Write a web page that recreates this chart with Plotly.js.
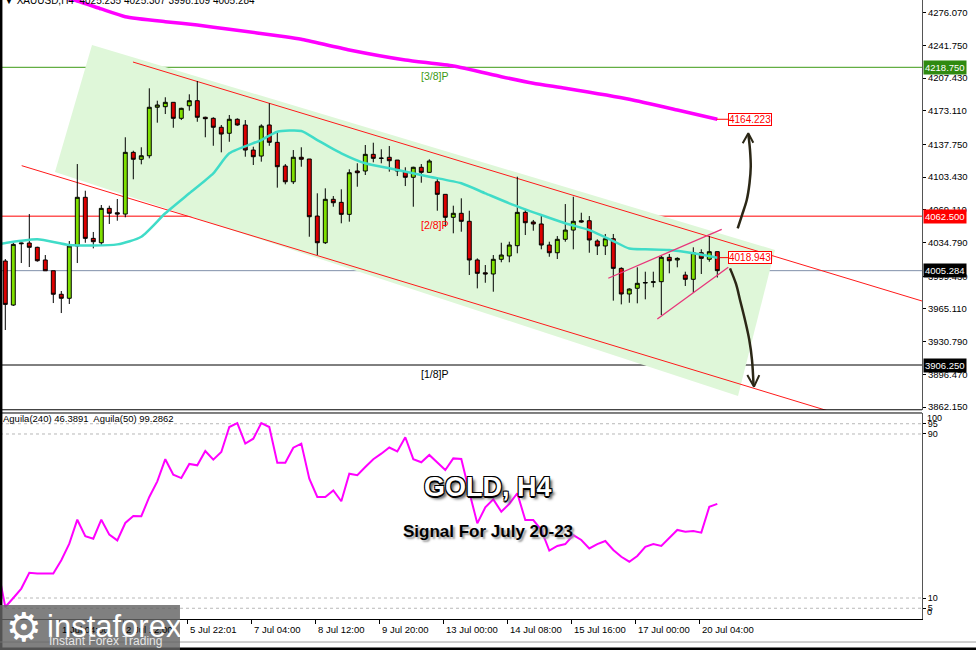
<!DOCTYPE html>
<html><head><meta charset="utf-8">
<script src="https://cdn.plot.ly/plotly-3.0.1.min.js"></script>
<style>html,body{margin:0;padding:0;background:#fff;overflow:hidden}</style>
</head><body><div id="chart" style="width:976px;height:650px"></div>
<script>
// ---------- DATA ----------
const opens  = [4015.4,3969.2,4033.5,4034.3,4029.8,4016.5,4005.2,3980.5,3976.3,4031.2,4082.3,4039.2,4034.6,4070.7,4066.1,4064.7,4129.5,4122.2,4125.9,4176.8,4177.4,4182.0,4165.2,4178.4,4183.7,4166.3,4165.2,4155.8,4149.5,4164.2,4158.2,4131.9,4125.6,4158.2,4140.0,4115.1,4098.6,4124.3,4122.5,4062.6,4034.6,4080.2,4077.0,4064.4,4109.9,4109.9,4127.4,4123.5,4124.3,4121.4,4109.2,4103.3,4113.8,4108.5,4098.6,4085.4,4061.3,4065.5,4057.1,4016.5,4003.1,4001.8,4017.2,4020.7,4031.5,4066.5,4056.4,4054.3,4032.2,4024.1,4038.2,4047.9,4057.7,4057.7,4036.4,4031.2,4038.8,4007.7,3980.8,3986.8,3992.3,3993.0,3993.7,4019.3,4016.5,4000.7,3996.2,4024.1,4017.2,4025.235];
const highs  = [4017.5,4034.6,4034.6,4064.7,4030.4,4021.7,4005.2,3983.9,4036.4,4117.2,4089.2,4045.9,4074.2,4073.5,4080.5,4145.3,4131.2,4134.8,4196.7,4183.7,4187.3,4182.0,4176.3,4190.4,4204.4,4166.9,4166.3,4158.2,4168.7,4165.2,4163.4,4135.4,4158.9,4181.0,4151.1,4117.2,4131.9,4134.8,4122.5,4086.5,4091.7,4083.6,4090.7,4111.7,4118.0,4137.2,4139.6,4132.7,4136.1,4121.4,4113.8,4114.4,4117.2,4122.2,4102.2,4085.4,4073.5,4081.2,4068.2,4018.2,4011.2,4021.7,4034.6,4035.7,4103.9,4069.0,4058.5,4062.6,4035.7,4041.6,4075.2,4082.9,4066.1,4062.6,4038.2,4043.8,4043.8,4008.8,3986.8,4008.8,4004.2,4004.2,4020.7,4022.8,4019.3,4004.2,4029.8,4027.7,4041.6,4025.307];
const lows   = [3943.0,3968.2,4013.3,4009.1,4014.7,4005.2,3971.3,3960.8,3970.3,4013.3,4034.6,4028.7,4031.2,4054.3,4057.7,4061.3,4101.2,4116.9,4123.2,4160.6,4169.7,4155.3,4163.4,4173.2,4161.6,4145.3,4136.4,4129.5,4140.6,4157.4,4124.9,4116.2,4119.7,4136.4,4092.4,4095.9,4096.2,4114.4,4040.9,4021.7,4033.3,4072.4,4055.0,4056.7,4093.4,4105.7,4119.0,4118.0,4109.2,4104.6,4094.1,4072.4,4097.6,4108.1,4068.2,4051.4,4044.5,4046.2,4000.7,3986.7,3992.6,3983.2,4014.1,4014.1,4023.5,4042.7,4047.2,4027.7,4019.9,4017.5,4035.7,4027.7,4055.6,4024.1,4021.7,4021.7,3973.8,3969.9,3971.6,3971.0,3975.2,3987.8,3958.7,4002.5,4008.8,3989.2,3982.1,4001.8,4014.7,3998.109];
const closes = [3969.9,4032.9,4034.2,4029.8,4015.7,4005.2,3980.5,3976.3,4031.2,4082.3,4039.2,4035.7,4070.7,4065.5,4064.7,4129.5,4122.2,4125.9,4176.8,4179.2,4182.0,4165.2,4175.7,4183.7,4166.3,4164.8,4155.8,4148.7,4164.2,4158.2,4131.9,4124.9,4157.1,4140.0,4114.4,4098.6,4124.3,4122.2,4061.9,4034.6,4080.2,4076.6,4064.4,4108.1,4108.1,4127.4,4123.2,4123.2,4120.7,4109.9,4103.3,4113.8,4108.5,4120.4,4085.4,4061.3,4065.5,4057.1,4016.5,4002.5,4001.8,4017.2,4021.7,4032.2,4066.5,4055.6,4054.3,4032.2,4024.1,4038.2,4047.9,4057.1,4056.4,4037.5,4031.2,4038.8,4007.7,3980.8,3986.0,3992.0,3992.8,3993.6,4019.3,4015.7,4018.2,3996.2,4024.1,4018.2,4025.2,4005.284];
const barIdx = opens.map((_, i) => i);

// moving averages (read at sampled bars)
const maFastX = [-1,4,8,14,17,20,23,26,28,32,34,37,39,42,45,48,53,57,60,63,67,70,73,76,78,80,83,86,89];
const maFastY = [4032.9,4038.2,4032.2,4032.9,4040.9,4065.5,4086.5,4107.5,4128.5,4142.4,4151.1,4151.9,4142.4,4128.5,4118.0,4112.7,4103.9,4097.0,4086.5,4076.0,4063.7,4055.0,4047.9,4036.4,4028.5,4027.7,4027.0,4023.5,4018.943];
const maSlowX = [0,7,9,12,15,20,24,28,35,37,43,50,56,62,66,70,78,84,89];
const maSlowY = [4305.0,4292.5,4288.4,4280.0,4271.9,4266.6,4263.2,4258.6,4250.9,4248.2,4236.9,4226.4,4220.1,4208.9,4202.0,4196.7,4185.2,4173.9,4164.223];

// oscillator (Aguila) per bar, from bar -1
const oscX = [-1].concat(barIdx);
const oscY = [25.6,5.6,10.0,14.6,22.3,21.9,21.9,21.9,28.4,36.5,48.2,40.2,38.9,48.2,40.9,38.1,46.6,50.0,49.9,59.3,66.9,77.7,70.1,68.5,75.4,74.7,81.7,77.5,81.2,93.4,95.3,85.3,87.7,95.3,93.4,76.0,76.0,83.3,85.3,68.2,59.3,59.3,62.5,57.2,70.6,69.9,73.9,77.7,80.4,83.4,81.5,88.4,77.7,76.2,79.8,76.2,72.4,78.1,77.8,61.7,46.4,54.2,58.1,52.1,55.9,61.1,48.0,48.0,43.2,33.1,35.4,36.3,40.7,38.3,34.2,36.3,37.8,33.4,30.1,27.7,30.5,35.0,36.3,35.4,39.1,43.2,42.3,42.7,41.9,54.5,55.9];
const oscLevels = [95, 90, 10, 5];

// axis ticks
const priceTicks = [4276.070,4241.750,4207.430,4173.110,4137.750,4103.430,4069.110,4034.790,3999.430,3965.110,3930.790,3896.470,3862.150];
const dateTickPos = [-1.25,6.75,14.75,22.75,30.75,38.75,46.75,54.75,62.75,70.75,78.75,86.75];
const dateTickText = ['29 Jun 2026','1 Jul 04:00','2 Jul 12:00','5 Jul 22:01','7 Jul 04:00','8 Jul 12:00','9 Jul 20:00','13 Jul 00:00','14 Jul 08:00','15 Jul 16:00','17 Jul 00:00','20 Jul 04:00'];

// levels
const levelPrices = [4218.750, 4062.500, 4005.284, 3906.250];
const levelNames  = ['[3/8]P', '[2/8]P', '', '[1/8]P'];

// drawings (bar index, price)
const zoneX = [10.84, 96.21, 91.59, 6.21];
const zoneY = [4242.2, 4027.0, 3873.7, 4108.8];
const chanUpX = [15.96, 114.6], chanUpY = [4224.3, 3973.4];
const chanLoX = [2.05, 103.08], chanLoY = [4115.5, 3857.5];
const wedgeUpX = [75.375, 89.55], wedgeUpY = [3997.3, 4048.7];
const wedgeLoX = [81.5, 90.375], wedgeLoY = [3954.5, 4008.8];
const upArrowX = [91.55,92.09,92.68,93.03,93.18,93.09,92.88];
const upArrowY = [4049.7,4063.7,4079.4,4097.3,4114.4,4131.9,4148.7];
const upHeadX = [92.175,92.875,93.5], upHeadY = [4138.97,4149.47,4139.6];
const dnArrowX = [90.59,91.34,91.84,92.46,93.0,93.34,93.53];
const dnArrowY = [4007.7,3991.3,3974.5,3953.5,3932.5,3911.5,3885.2];
const dnHeadX = [92.75,93.59,94.25], dnHeadY = [3895.7,3883.5,3895.7];

// ---------- FIGURE ----------
const FONT = 'Liberation Sans, Arial, sans-serif';
const traces = [
  {type:'candlestick', x:barIdx, open:opens, high:highs, low:lows, close:closes,
   xaxis:'x', yaxis:'y', whiskerwidth:0,
   increasing:{line:{color:'#000', width:1}, fillcolor:'#7fe000'},
   decreasing:{line:{color:'#000', width:1}, fillcolor:'#dc0000'},
   hoverinfo:'skip', showlegend:false},
  {type:'scatter', mode:'lines', x:maFastX, y:maFastY, line:{color:'#40dcc8', width:2.5, shape:'spline', smoothing:0.6}, hoverinfo:'skip'},
  {type:'scatter', mode:'lines', x:maSlowX, y:maSlowY, line:{color:'#ff00ff', width:3.5, shape:'spline', smoothing:0.5}, hoverinfo:'skip'},
  {type:'scatter', mode:'lines', x:upArrowX, y:upArrowY, line:{color:'#2b2716', width:2.5, shape:'spline'}, hoverinfo:'skip'},
  {type:'scatter', mode:'lines', x:upHeadX, y:upHeadY, line:{color:'#2b2716', width:2}, hoverinfo:'skip'},
  {type:'scatter', mode:'lines', x:dnArrowX, y:dnArrowY, line:{color:'#2b2716', width:2.5, shape:'spline'}, hoverinfo:'skip'},
  {type:'scatter', mode:'lines', x:dnHeadX, y:dnHeadY, line:{color:'#2b2716', width:2}, hoverinfo:'skip'},
  {type:'scatter', mode:'lines', x:oscX, y:oscY, xaxis:'x', yaxis:'y2', line:{color:'#ff00ff', width:2}, hoverinfo:'skip'}
];

const shapes = [];
// zone
let zp = 'M ' + zoneX[0] + ',' + zoneY[0];
for (let i = 1; i < zoneX.length; i++) zp += ' L ' + zoneX[i] + ',' + zoneY[i];
zp += ' Z';
shapes.push({type:'path', path:zp, xref:'x', yref:'y', fillcolor:'#dff7d9', line:{width:0}, layer:'below'});
// levels
const levelColors = ['#3c9a14', '#ff0000', '#8090aa', '#000000'];
levelPrices.forEach((p, i) => shapes.push({type:'line', xref:'paper', x0:0, x1:1, yref:'y', y0:p, y1:p, line:{color:levelColors[i], width:1}, layer:'below'}));
// channel / wedge
shapes.push({type:'line', xref:'x', yref:'y', x0:chanUpX[0], x1:chanUpX[1], y0:chanUpY[0], y1:chanUpY[1], line:{color:'#ff1a1a', width:1}, layer:'below'});
shapes.push({type:'line', xref:'x', yref:'y', x0:chanLoX[0], x1:chanLoX[1], y0:chanLoY[0], y1:chanLoY[1], line:{color:'#ff1a1a', width:1}, layer:'below'});
shapes.push({type:'line', xref:'x', yref:'y', x0:wedgeUpX[0], x1:wedgeUpX[1], y0:wedgeUpY[0], y1:wedgeUpY[1], line:{color:'#e8357a', width:1.3}});
shapes.push({type:'line', xref:'x', yref:'y', x0:wedgeLoX[0], x1:wedgeLoX[1], y0:wedgeLoY[0], y1:wedgeLoY[1], line:{color:'#e8357a', width:1.3}});
// connectors to value boxes
shapes.push({type:'line', xref:'x', yref:'y', x0:88.9, x1:90.4, y0:maSlowY[maSlowY.length-1], y1:maSlowY[maSlowY.length-1], line:{color:'#ff0000', width:1}});
shapes.push({type:'line', xref:'x', yref:'y', x0:89.3, x1:90.4, y0:maFastY[maFastY.length-1], y1:maFastY[maFastY.length-1], line:{color:'#ff0000', width:1}});
// oscillator levels
oscLevels.forEach(v => shapes.push({type:'line', xref:'paper', x0:0, x1:1, yref:'y2', y0:v, y1:v, line:{color:'#b8b8b8', width:1, dash:'3px,3px'}, layer:'below'}));
// frame lines
shapes.push({type:'line', xref:'paper', yref:'paper', x0:0, x1:1, y0:0.3380, y1:0.3380, line:{color:'#000', width:1}});
shapes.push({type:'line', xref:'paper', yref:'paper', x0:0, x1:1, y0:0.3328, y1:0.3328, line:{color:'#000', width:1}});
shapes.push({type:'line', xref:'paper', yref:'paper', x0:0.001, x1:0.001, y0:-0.05, y1:1, line:{color:'#000', width:3}});
shapes.push({type:'line', xref:'paper', yref:'paper', x0:0, x1:1.06, y0:-0.0372, y1:-0.0372, line:{color:'#a0a0a0', width:1}});
shapes.push({type:'line', xref:'paper', yref:'paper', x0:0, x1:1.06, y0:-0.0485, y1:-0.0485, line:{color:'#000', width:3}});
// watermark box
shapes.push({type:'rect', xref:'paper', yref:'paper', x0:0, x1:0.1952, y0:0.0226, y1:-0.06, fillcolor:'rgba(100,100,100,0.82)', line:{width:0}});

const annotations = [];
// date labels
dateTickPos.forEach((p, i) => annotations.push({xref:'x', yref:'paper', x:p, y:0, yshift:-3, xanchor:'left', yanchor:'top', xshift:1, text:dateTickText[i], showarrow:false, font:{family:FONT, size:9.5, color:'#000'}}));
// level labels
const levelLabelColors = ['#3c9a14', '#ff0000', '#000', '#000'];
levelPrices.forEach((p, i) => { if (levelNames[i]) annotations.push({xref:'x', yref:'y', x:53.7, y:p, yanchor:'top', yshift:-1, text:levelNames[i], showarrow:false, font:{family:FONT, size:10.5, color:levelLabelColors[i]}}); });
// right axis boxes
const boxBg = ['#2f8a10', '#ff0000', '#000', '#000'];
levelPrices.forEach((p, i) => annotations.push({xref:'paper', yref:'y', x:1, xshift:1, xanchor:'left', yanchor:'middle', y:p, text:p.toFixed(3), showarrow:false, bgcolor:boxBg[i], borderpad:1, font:{family:FONT, size:9.5, color:'#fff'}}));
// value boxes
[maSlowY[maSlowY.length-1], maFastY[maFastY.length-1]].forEach(v => annotations.push({xref:'x', yref:'y', x:90.375, y:v, xanchor:'left', yanchor:'middle', text:v.toFixed(3), showarrow:false, bgcolor:'#fff', bordercolor:'#ff0000', borderwidth:1, borderpad:0, font:{family:FONT, size:10, color:'#ff0000'}}));
// header
annotations.push({xref:'paper', yref:'paper', x:0, xshift:2, y:1, yshift:7, xanchor:'left', yanchor:'top', showarrow:false, text:'▼ XAUUSD,H4  4025.235 4025.307 3998.109 4005.284', font:{family:FONT, size:10, color:'#000'}});
// oscillator label
annotations.push({xref:'paper', yref:'y2', x:0, xshift:1, y:97.4, xanchor:'left', yanchor:'middle', showarrow:false, text:'Aguila(240) 46.3891  Aguila(50) 99.2862', font:{family:FONT, size:9.5, color:'#000'}});
annotations.push({xref:'paper', yref:'y2', x:1, xshift:3, y:97.8, xanchor:'left', yanchor:'middle', showarrow:false, text:'100', font:{family:FONT, size:9, color:'#000'}});
annotations.push({xref:'paper', yref:'y2', x:1, xshift:3, y:3.0, xanchor:'left', yanchor:'middle', showarrow:false, text:'0', font:{family:FONT, size:9, color:'#000'}});
// titles
annotations.push({xref:'paper', yref:'paper', x:0.5293, y:0.2133, xanchor:'center', yanchor:'middle', showarrow:false, text:'<b>GOLD, H4</b>', font:{family:FONT, size:27, color:'#fff', shadow:'-1px -1px 0 #000, 1px -1px 0 #000, -1px 1px 0 #000, 1px 1px 0 #000, 0 -1.5px 0 #000, 0 1.5px 0 #000, 3px 3px 3px #555'}});
annotations.push({xref:'paper', yref:'paper', x:0.5293, y:0.1406, xanchor:'center', yanchor:'middle', showarrow:false, text:'<b>Signal For July 20-23</b>', font:{family:FONT, size:17, color:'#000', shadow:'2px 2px 2px #999'}});
// watermark
annotations.push({xref:'paper', yref:'paper', x:0.0265, y:-0.0129, xanchor:'center', yanchor:'middle', showarrow:false, text:'⚙', font:{family:'DejaVu Sans', size:40, color:'#fff'}});
annotations.push({xref:'paper', yref:'paper', x:0.049, y:-0.0129, xanchor:'left', yanchor:'middle', showarrow:false, text:'instaforex', font:{family:FONT, size:31, color:'#fff'}});
annotations.push({xref:'paper', yref:'paper', x:0.051, y:-0.0355, xanchor:'left', yanchor:'middle', showarrow:false, text:'Instant Forex Trading', font:{family:FONT, size:12, color:'#e6e6e6'}});

const layout = {
  width:976, height:650,
  margin:{l:0, r:54, t:0, b:31},
  paper_bgcolor:'#fff', plot_bgcolor:'#fff',
  showlegend:false, hovermode:false, dragmode:false,
  xaxis:{type:'linear', range:[-0.6625, 114.5875], anchor:'y2', showgrid:false, zeroline:false,
         rangeslider:{visible:false}, tickvals:dateTickPos, ticks:'outside', ticklen:4, tickcolor:'#000',
         showticklabels:false, showline:true, linecolor:'#000', linewidth:1, fixedrange:true},
  yaxis:{domain:[0.3376, 1], range:[3859.0, 4289.4], side:'right', anchor:'x', showgrid:false, zeroline:false,
         tickvals:priceTicks, ticktext:priceTicks.map(v => v.toFixed(3)), ticks:'outside', ticklen:3, tickcolor:'#000',
         tickfont:{family:FONT, size:9.5, color:'#000'}, showline:true, linecolor:'#555', automargin:false, fixedrange:true},
  yaxis2:{domain:[0, 0.3328], range:[-0.24, 100.24], side:'right', anchor:'x', showgrid:false, zeroline:false,
         tickvals:oscLevels, ticktext:oscLevels.map(String), ticks:'outside', ticklen:3, tickcolor:'#000',
         tickfont:{family:FONT, size:9, color:'#000'}, showline:true, linecolor:'#555', automargin:false, fixedrange:true},
  shapes:shapes, annotations:annotations
};
Plotly.newPlot('chart', traces, layout, {staticPlot:true, displayModeBar:false});
</script></body></html>
